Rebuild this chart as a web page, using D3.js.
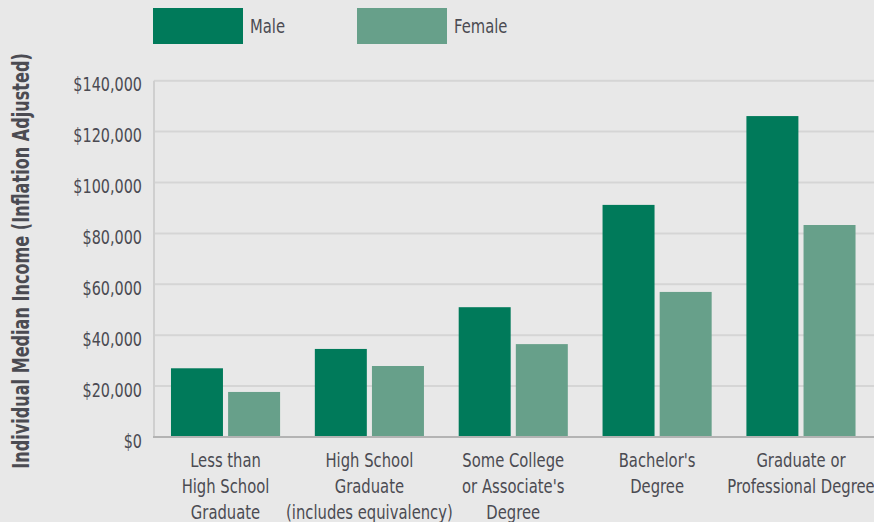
<!DOCTYPE html>
<html>
<head>
<meta charset="utf-8">
<script src="https://cdn.jsdelivr.net/npm/d3@7"></script>
<style>
  body { margin: 0; background: #e8e8e8; }
  svg { display: block; }
  text { font-family: "DejaVu Sans", sans-serif; fill: #4b4b52; }
</style>
</head>
<body>
<svg id="chart" width="874" height="522"></svg>
<script>
// education levels, one label line per entry
var categories = [
  ["Less than", "High School", "Graduate"],
  ["High School", "Graduate", "(includes equivalency)"],
  ["Some College", "or Associate's", "Degree"],
  ["Bachelor's", "Degree"],
  ["Graduate or", "Professional Degree"]
];
var series = ["Male", "Female"];
var male = [27000, 34600, 51000, 91200, 126100];
var female = [17700, 27900, 36500, 57000, 83300];
var yTicks = [0, 20000, 40000, 60000, 80000, 100000, 120000, 140000];

var colors = { Male: "#007a5a", Female: "#67a08a" };
var squeeze = 0.74; // horizontal squash to mimic a condensed face

var svg = d3.select("#chart");
var plotLeft = 154, plotRight = 872.5, plotTop = 80.7, plotBottom = 437;

var x0 = d3.scaleBand()
    .domain(d3.range(categories.length))
    .range([plotLeft, plotRight])
    .paddingInner(0.2415)
    .paddingOuter(0.118);
var x1 = d3.scaleBand()
    .domain(series)
    .range([0, x0.bandwidth()])
    .paddingInner(0.09);
var y = d3.scaleLinear().domain([0, 140000]).range([plotBottom, plotTop]);

// gridlines
svg.append("g").selectAll("line")
    .data(yTicks.slice(1))
    .enter().append("line")
    .attr("x1", plotLeft).attr("x2", 874)
    .attr("y1", function(d) { return y(d); })
    .attr("y2", function(d) { return y(d); })
    .attr("stroke", "#d5d5d5")
    .attr("stroke-width", 2);

// left axis line
svg.append("line")
    .attr("x1", plotLeft).attr("x2", plotLeft)
    .attr("y1", plotTop).attr("y2", plotBottom)
    .attr("stroke", "#cfcfcf").attr("stroke-width", 2);

// y tick labels
var yAxis = svg.append("g")
    .attr("transform", "translate(" + (plotLeft - 12) + ",0)")
    .call(d3.axisLeft(y).tickValues(yTicks).tickSize(0).tickPadding(0)
        .tickFormat(function(d) { return "$" + d3.format(",")(d); }));
yAxis.select(".domain").remove();
yAxis.selectAll("text")
    .attr("font-size", 20)
    .attr("dy", "0.5em")
    .attr("transform", "scale(0.72,1)")
    .style("font-family", "\"DejaVu Sans\", sans-serif")
    .attr("fill", "#4b4b52");

// bars
var groups = svg.append("g").selectAll("g")
    .data(categories.map(function(c, i) { return { i: i, Male: male[i], Female: female[i] }; }))
    .enter().append("g")
    .attr("transform", function(d) { return "translate(" + x0(d.i) + ",0)"; });
groups.selectAll("rect")
    .data(function(d) { return series.map(function(s) { return { s: s, v: d[s] }; }); })
    .enter().append("rect")
    .attr("x", function(d) { return x1(d.s); })
    .attr("width", x1.bandwidth())
    .attr("y", function(d) { return y(d.v); })
    .attr("height", function(d) { return plotBottom - y(d.v); })
    .attr("fill", function(d) { return colors[d.s]; });

// baseline
svg.append("line")
    .attr("x1", plotLeft - 1).attr("x2", 874)
    .attr("y1", plotBottom).attr("y2", plotBottom)
    .attr("stroke", "#b3b3b3").attr("stroke-width", 2);

// x labels
svg.append("g").selectAll("text")
    .data(categories)
    .enter().append("text")
    .attr("text-anchor", "middle")
    .attr("font-size", 20)
    .attr("transform", function(d, i) {
        return "translate(" + (x0(i) + x0.bandwidth() / 2) + ",0) scale(" + squeeze + ",1)";
    })
    .selectAll("tspan")
    .data(function(d) { return d; })
    .enter().append("tspan")
    .attr("x", 0)
    .attr("y", function(d, j) { return 467 + j * 26; })
    .text(function(d) { return d; });

// y axis title
svg.append("text")
    .attr("transform", "translate(29,261) rotate(-90) scale(0.7,1)")
    .attr("text-anchor", "middle")
    .attr("font-size", 23)
    .attr("font-weight", "bold")
    .text("Individual Median Income (Inflation Adjusted)");

// legend
var legend = svg.append("g").selectAll("g")
    .data(series)
    .enter().append("g")
    .attr("transform", function(d, i) { return "translate(" + (153 + i * 204) + ",8)"; });
legend.append("rect")
    .attr("width", 90).attr("height", 36)
    .attr("fill", function(d) { return colors[d]; });
legend.append("text")
    .attr("transform", "translate(97,25) scale(" + squeeze + ",1)")
    .attr("font-size", 20)
    .text(function(d) { return d; });
</script>
</body>
</html>
